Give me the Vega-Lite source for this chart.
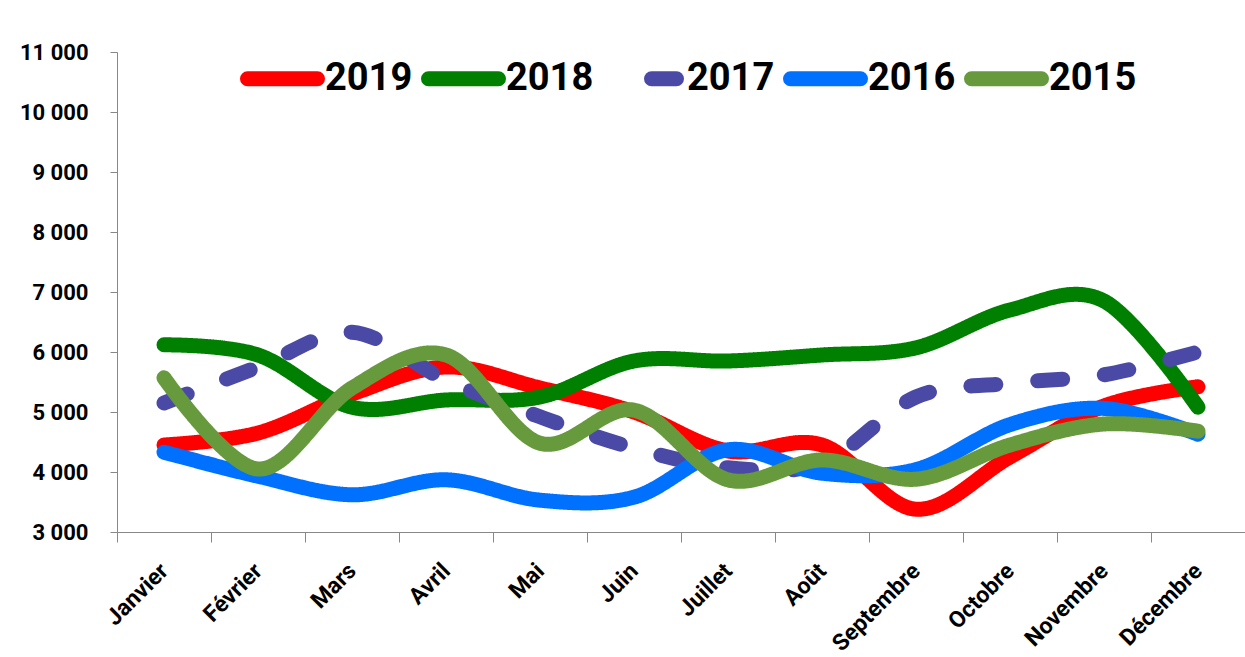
{
  "$schema": "https://vega.github.io/schema/vega-lite/v6.json",
  "autosize": {"type": "none"},
  "padding": {"left": 117, "top": 52, "right": 0, "bottom": 125},
  "width": 1128,
  "height": 480,
  "background": "white",
  "data": {"values": [
    {"mois": "Janvier", "annee": "2019", "valeur": 4450},
    {"mois": "Février", "annee": "2019", "valeur": 4650},
    {"mois": "Mars", "annee": "2019", "valeur": 5300},
    {"mois": "Avril", "annee": "2019", "valeur": 5750},
    {"mois": "Mai", "annee": "2019", "valeur": 5400},
    {"mois": "Juin", "annee": "2019", "valeur": 5000},
    {"mois": "Juillet", "annee": "2019", "valeur": 4350},
    {"mois": "Août", "annee": "2019", "valeur": 4450},
    {"mois": "Septembre", "annee": "2019", "valeur": 3380},
    {"mois": "Octobre", "annee": "2019", "valeur": 4250},
    {"mois": "Novembre", "annee": "2019", "valeur": 5100},
    {"mois": "Décembre", "annee": "2019", "valeur": 5420},
    {"mois": "Janvier", "annee": "2018", "valeur": 6120},
    {"mois": "Février", "annee": "2018", "valeur": 5950},
    {"mois": "Mars", "annee": "2018", "valeur": 5080},
    {"mois": "Avril", "annee": "2018", "valeur": 5200},
    {"mois": "Mai", "annee": "2018", "valeur": 5250},
    {"mois": "Juin", "annee": "2018", "valeur": 5850},
    {"mois": "Juillet", "annee": "2018", "valeur": 5850},
    {"mois": "Août", "annee": "2018", "valeur": 5950},
    {"mois": "Septembre", "annee": "2018", "valeur": 6070},
    {"mois": "Octobre", "annee": "2018", "valeur": 6700},
    {"mois": "Novembre", "annee": "2018", "valeur": 6850},
    {"mois": "Décembre", "annee": "2018", "valeur": 5080},
    {"mois": "Janvier", "annee": "2017", "valeur": 5150},
    {"mois": "Février", "annee": "2017", "valeur": 5750},
    {"mois": "Mars", "annee": "2017", "valeur": 6330},
    {"mois": "Avril", "annee": "2017", "valeur": 5530},
    {"mois": "Mai", "annee": "2017", "valeur": 4920},
    {"mois": "Juin", "annee": "2017", "valeur": 4400},
    {"mois": "Juillet", "annee": "2017", "valeur": 4070},
    {"mois": "Août", "annee": "2017", "valeur": 4150},
    {"mois": "Septembre", "annee": "2017", "valeur": 5250},
    {"mois": "Octobre", "annee": "2017", "valeur": 5480},
    {"mois": "Novembre", "annee": "2017", "valeur": 5620},
    {"mois": "Décembre", "annee": "2017", "valeur": 6000},
    {"mois": "Janvier", "annee": "2016", "valeur": 4330},
    {"mois": "Février", "annee": "2016", "valeur": 3930},
    {"mois": "Mars", "annee": "2016", "valeur": 3620},
    {"mois": "Avril", "annee": "2016", "valeur": 3870},
    {"mois": "Mai", "annee": "2016", "valeur": 3530},
    {"mois": "Juin", "annee": "2016", "valeur": 3580},
    {"mois": "Juillet", "annee": "2016", "valeur": 4370},
    {"mois": "Août", "annee": "2016", "valeur": 3980},
    {"mois": "Septembre", "annee": "2016", "valeur": 4040},
    {"mois": "Octobre", "annee": "2016", "valeur": 4790},
    {"mois": "Novembre", "annee": "2016", "valeur": 5060},
    {"mois": "Décembre", "annee": "2016", "valeur": 4630},
    {"mois": "Janvier", "annee": "2015", "valeur": 5570},
    {"mois": "Février", "annee": "2015", "valeur": 4050},
    {"mois": "Mars", "annee": "2015", "valeur": 5400},
    {"mois": "Avril", "annee": "2015", "valeur": 5950},
    {"mois": "Mai", "annee": "2015", "valeur": 4480},
    {"mois": "Juin", "annee": "2015", "valeur": 5030},
    {"mois": "Juillet", "annee": "2015", "valeur": 3870},
    {"mois": "Août", "annee": "2015", "valeur": 4200},
    {"mois": "Septembre", "annee": "2015", "valeur": 3880},
    {"mois": "Octobre", "annee": "2015", "valeur": 4450},
    {"mois": "Novembre", "annee": "2015", "valeur": 4800},
    {"mois": "Décembre", "annee": "2015", "valeur": 4680}
  ]},
  "mark": {"type": "line", "interpolate": "cardinal", "strokeWidth": 15, "strokeCap": "round", "strokeJoin": "round"},
  "encoding": {
    "x": {
      "field": "mois", "type": "nominal", "sort": null, "bandPosition": 0.5,
      "scale": {"type": "band", "paddingInner": 0, "paddingOuter": 0,
        "domain": ["Janvier", "Février", "Mars", "Avril", "Mai", "Juin", "Juillet", "Août", "Septembre", "Octobre", "Novembre", "Décembre"]},
      "axis": {
        "title": null, "tickBand": "extent", "labelAngle": -45, "labelAlign": "right", "labelBaseline": "middle",
        "labelFont": "Roboto", "labelFontSize": 23, "labelFontWeight": "bold",
        "labelColor": "black", "labelPadding": 25, "tickSize": 10, "tickColor": "#888888", "domainColor": "#888888",
        "grid": false, "labelOverlap": false
      }
    },
    "y": {
      "field": "valeur", "type": "quantitative",
      "scale": {"domain": [3000, 11000], "nice": false},
      "axis": {
        "title": null, "values": [3000, 4000, 5000, 6000, 7000, 8000, 9000, 10000, 11000],
        "labelExpr": "replace(format(datum.value, ','), ',', ' ')",
        "labelFont": "Roboto", "labelFontSize": 22, "labelFontWeight": "bold", "labelColor": "black",
        "labelPadding": 22, "tickSize": 7, "tickColor": "#888888", "domainColor": "#888888", "grid": false
      }
    },
    "color": {
      "field": "annee", "type": "nominal",
      "scale": {"domain": ["2019", "2018", "2017", "2016", "2015"],
        "range": ["#FF0000", "#008000", "#4A4AA6", "#0070FF", "#679A3D"]},
      "legend": {
        "title": null, "orient": "none", "direction": "horizontal", "columns": 5,
        "legendX": 123, "legendY": -16, "symbolType": "stroke", "symbolSize": 4900, "symbolStrokeWidth": 15,
        "symbolDashOffset": 25,
        "labelFont": "Roboto", "labelFontSize": 38, "labelFontWeight": "bold", "labelColor": "black",
        "labelOffset": 0, "columnPadding": -15, "labelLimit": 300,
        "encode": {"symbols": {"update": {"strokeCap": {"value": "round"}}}}
      }
    },
    "strokeDash": {
      "field": "annee", "type": "nominal",
      "scale": {"domain": ["2019", "2018", "2017", "2016", "2015"],
        "range": [[1, 0], [1, 0], [25, 42], [1, 0], [1, 0]]},
      "legend": {
        "title": null, "orient": "none", "direction": "horizontal", "columns": 5,
        "legendX": 123, "legendY": -16, "symbolType": "stroke", "symbolSize": 4900, "symbolStrokeWidth": 15,
        "symbolDashOffset": 25,
        "labelFont": "Roboto", "labelFontSize": 38, "labelFontWeight": "bold", "labelColor": "black",
        "labelOffset": 0, "columnPadding": -15, "labelLimit": 300,
        "encode": {"symbols": {"update": {"strokeCap": {"value": "round"}}}}
      }
    }
  },
  "config": {"view": {"stroke": null}}
}
